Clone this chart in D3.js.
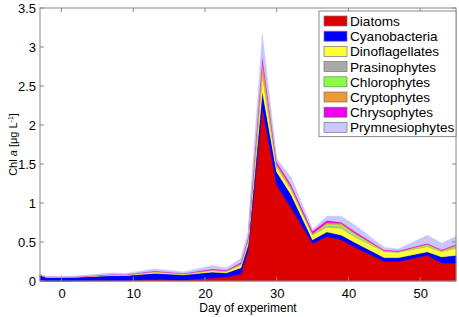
<!DOCTYPE html>
<html>
<head>
<meta charset="utf-8">
<script src="https://cdn.jsdelivr.net/npm/d3@7"></script>
<style>
  body { margin: 0; background: #fff; }
  svg { display: block; font-family: "Liberation Sans", Arial, sans-serif; }
  .tick-label { font-size: 13px; fill: #000; }
  .legend-label { font-size: 13.6px; fill: #000; }
</style>
</head>
<body>
<div id="wrapper"></div>
<script>
// 1. Data
const days = [-3, -2, 0, 3, 7, 9, 13, 17, 21, 23, 25, 26, 28, 30, 32, 35, 37, 39, 41, 45, 47, 51, 53, 55]
const diatoms        = [0, 0, 0, 0.003, 0.005, 0.005, 0.02, 0.01, 0.04, 0.05, 0.09, 0.38, 2.22, 1.23, 0.94, 0.48, 0.57, 0.53, 0.43, 0.25, 0.25, 0.33, 0.23, 0.23]
const cyanobacteria  = [0.08, 0.045, 0.045, 0.05, 0.065, 0.065, 0.08, 0.07, 0.075, 0.055, 0.08, 0.08, 0.22, 0.17, 0.17, 0.05, 0.06, 0.06, 0.06, 0.05, 0.05, 0.045, 0.08, 0.1]
const dinoflag       = [0, 0.002, 0.003, 0.005, 0.01, 0.008, 0.015, 0.01, 0.018, 0.018, 0.035, 0.05, 0.2, 0.06, 0.06, 0.06, 0.06, 0.085, 0.07, 0.075, 0.07, 0.065, 0.065, 0.09]
const prasino        = [0, 0, 0, 0, 0.002, 0.002, 0.003, 0.002, 0.004, 0.003, 0.005, 0.005, 0.02, 0.01, 0.01, 0.005, 0.02, 0.02, 0.015, 0.005, 0.003, 0.01, 0.005, 0.01]
const chloro         = [0, 0, 0, 0, 0, 0, 0.002, 0.001, 0.002, 0.002, 0.004, 0.005, 0.02, 0.01, 0.01, 0.005, 0.02, 0.025, 0.02, 0.005, 0.003, 0.01, 0.005, 0.01]
const crypto         = [0, 0, 0, 0, 0.002, 0.002, 0.004, 0.003, 0.006, 0.005, 0.01, 0.02, 0.16, 0.02, 0.02, 0.01, 0.02, 0.02, 0.015, 0.005, 0.005, 0.015, 0.01, 0.02]
const chryso         = [0, 0, 0, 0.003, 0.004, 0.003, 0.006, 0.004, 0.012, 0.008, 0.015, 0.02, 0.06, 0.03, 0.03, 0.03, 0.03, 0.015, 0.02, 0.01, 0.01, 0.01, 0.01, 0.01]
const prymnesio      = [0.005, 0.005, 0.006, 0.01, 0.015, 0.012, 0.025, 0.015, 0.04, 0.025, 0.05, 0.06, 0.26, 0.04, 0.09, 0.02, 0.05, 0.075, 0.08, 0.03, 0.02, 0.1, 0.08, 0.1]

const groupNames = ['Diatoms', 'Cyanobacteria', 'Dinoflagellates', 'Prasinophytes',
  'Chlorophytes', 'Cryptophytes', 'Chrysophytes', 'Prymnesiophytes']
const groupValues = [diatoms, cyanobacteria, dinoflag, prasino, chloro, crypto, chryso, prymnesio]
const groupColors = ['#dd0000', '#0000ff', '#ffff33', '#aaaaaa', '#88ff44', '#ee9933', '#ee00ee', '#c8c8ff']

const xTicks = [0, 10, 20, 30, 40, 50]
const yTicks = [0, 0.5, 1, 1.5, 2, 2.5, 3, 3.5]

const dataset = days.map((d, i) => {
  const row = { day: d }
  groupNames.forEach((name, j) => { row[name] = groupValues[j][i] })
  return row
})
const xAccessor = d => d.data.day

// 2. Dimensions
let dimensions = {
  width: 459,
  height: 317,
  margin: { top: 8, right: 3, bottom: 36, left: 40 },
}
dimensions.boundedWidth = dimensions.width - dimensions.margin.left - dimensions.margin.right
dimensions.boundedHeight = dimensions.height - dimensions.margin.top - dimensions.margin.bottom

// 3. Canvas
const wrapper = d3.select('#wrapper')
  .append('svg')
  .attr('width', dimensions.width)
  .attr('height', dimensions.height)

const bounds = wrapper.append('g')
  .attr('transform', `translate(${dimensions.margin.left},${dimensions.margin.top})`)

// 4. Scales
const xScale = d3.scaleLinear()
  .domain([-3, 55])
  .range([0, dimensions.boundedWidth])
const yScale = d3.scaleLinear()
  .domain([0, 3.5])
  .range([dimensions.boundedHeight, 0])

// 5. Draw data
const stack = d3.stack().keys(groupNames)
const series = stack(dataset)

const areaGenerator = d3.area()
  .x(d => xScale(xAccessor(d)))
  .y0(d => yScale(d[0]))
  .y1(d => yScale(d[1]))

bounds.selectAll('.layer')
  .data(series)
  .enter()
  .append('path')
  .attr('class', 'layer')
  .attr('d', areaGenerator)
  .attr('fill', (d, i) => groupColors[i])
  .attr('stroke', (d, i) => groupColors[i])
  .attr('stroke-width', 0.6)

// 6. Peripherals
const axisColor = '#888'
const tickLen = 4

const xAxis = bounds.append('g')
  .attr('transform', `translate(0,${dimensions.boundedHeight})`)
  .call(d3.axisBottom(xScale).tickValues(xTicks).tickSize(0).tickPadding(5))
xAxis.select('.domain').remove()
xAxis.selectAll('text').attr('class', 'tick-label').attr('fill', '#000').attr('dy', '0.9em')

const yAxis = bounds.append('g')
  .call(d3.axisLeft(yScale).tickValues(yTicks).tickSize(0).tickPadding(4).tickFormat(d3.format('')))
yAxis.select('.domain').remove()
yAxis.selectAll('text').attr('class', 'tick-label').attr('fill', '#000')

// inward ticks on all four sides
const tickGroup = bounds.append('g').attr('stroke', axisColor).attr('stroke-width', 1)
tickGroup.selectAll('.xt')
  .data(xTicks)
  .enter()
  .append('path')
  .attr('d', d => `M${xScale(d)},${dimensions.boundedHeight}v${-tickLen}M${xScale(d)},0v${tickLen}`)
tickGroup.selectAll('.yt')
  .data(yTicks)
  .enter()
  .append('path')
  .attr('d', d => `M0,${yScale(d)}h${tickLen}M${dimensions.boundedWidth},${yScale(d)}h${-tickLen}`)

bounds.append('rect')
  .attr('width', dimensions.boundedWidth)
  .attr('height', dimensions.boundedHeight)
  .attr('fill', 'none')
  .attr('stroke', axisColor)
  .attr('stroke-width', 1)

// axis labels
wrapper.append('text')
  .attr('x', dimensions.margin.left + dimensions.boundedWidth / 2)
  .attr('y', 312)
  .attr('text-anchor', 'middle')
  .style('font-size', '12px')
  .text('Day of experiment')

const yLabel = wrapper.append('text')
  .attr('transform', `translate(17,${dimensions.margin.top + dimensions.boundedHeight / 2}) rotate(-90)`)
  .attr('text-anchor', 'middle')
  .style('font-size', '11px')
yLabel.append('tspan').text('Chl ')
yLabel.append('tspan').style('font-style', 'italic').text('a')
yLabel.append('tspan').text(' [μg L')
yLabel.append('tspan').attr('dy', -4).style('font-size', '7px').text('-1')
yLabel.append('tspan').attr('dy', 4).text(']')

// legend
const legendRow = 15.2
const legendGroup = wrapper.append('g')
  .attr('transform', 'translate(319,11)')
legendGroup.append('rect')
  .attr('width', 137)
  .attr('height', groupNames.length * legendRow + 4)
  .attr('fill', '#fff')
  .attr('stroke', axisColor)
const legendItems = legendGroup.selectAll('.item')
  .data(groupNames)
  .enter()
  .append('g')
  .attr('transform', (d, i) => `translate(0,${3 + i * legendRow})`)
legendItems.append('rect')
  .attr('x', 5)
  .attr('y', 2)
  .attr('width', 23)
  .attr('height', 10)
  .attr('fill', (d, i) => groupColors[i])
  .attr('stroke', '#777')
  .attr('stroke-width', 0.7)
legendItems.append('text')
  .attr('class', 'legend-label')
  .attr('x', 31)
  .attr('y', 12)
  .text(d => d)
</script>
</body>
</html>
